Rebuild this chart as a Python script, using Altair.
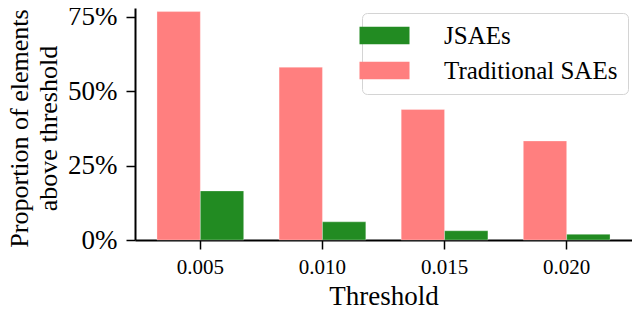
import altair as alt
import pandas as pd

thresholds = ["0.005", "0.010", "0.015", "0.020"]
jsae_vals = [0.165, 0.061, 0.031, 0.019]
trad_vals = [0.768, 0.581, 0.439, 0.333]
series = ["JSAEs", "Traditional SAEs"]
colors = ["#228B22", "#FF7F7F"]

rows = []
for t, j, tr in zip(thresholds, jsae_vals, trad_vals):
    rows.append({"Threshold": t, "Model": "Traditional SAEs", "Value": tr})
    rows.append({"Threshold": t, "Model": "JSAEs", "Value": j})
df = pd.DataFrame(rows)

FONT = "Liberation Serif"

chart = alt.Chart(df).mark_bar(stroke="white", strokeWidth=0.5, strokeOpacity=0.6).encode(
    x=alt.X("Threshold:N", sort=thresholds,
            scale=alt.Scale(paddingInner=0.29, paddingOuter=0.18),
            axis=alt.Axis(title="Threshold", labelAngle=0, labelFontSize=21,
                          titleFontSize=27, titlePadding=6, labelPadding=7,
                          tickSize=9, tickWidth=1.5, tickColor="black",
                          domainColor="black", domainWidth=2,
                          labelColor="black", titleColor="black",
                          labelFont=FONT, titleFont=FONT, titleFontWeight="normal")),
    xOffset=alt.XOffset("Model:N", sort=["Traditional SAEs", "JSAEs"],
                        scale=alt.Scale(paddingInner=0, paddingOuter=0)),
    y=alt.Y("Value:Q", scale=alt.Scale(domain=[0, 0.78], nice=False),
            axis=alt.Axis(title=["Proportion of elements", "above threshold"],
                          values=[0, 0.25, 0.5, 0.75], format=".0%", grid=False,
                          labelFontSize=27, titleFontSize=26, labelPadding=9,
                          tickSize=9, tickWidth=1.5, tickColor="black",
                          domainColor="black", domainWidth=2,
                          labelColor="black", titleColor="black",
                          labelFont=FONT, titleFont=FONT, titleFontWeight="normal",
                          titleAngle=-90, titleAlign="center", titleBaseline="alphabetic",
                          titleX=-108, titleY=120, titleLineHeight=29)),
    color=alt.Color("Model:N", scale=alt.Scale(domain=series, range=colors),
                    legend=alt.Legend(title=None, orient="none", legendX=227, legendY=5,
                                      labelFontSize=25, labelFont=FONT, labelColor="black",
                                      labelLimit=0,
                                      symbolType="M-2,-0.7H2V0.7H-2Z", symbolSize=625,
                                      symbolStrokeWidth=0, labelOffset=47,
                                      rowPadding=9, padding=10,
                                      strokeColor="#d4d4d4", fillColor="white",
                                      cornerRadius=5)),
).properties(
    width=497, height=232,
    autosize=alt.AutoSizeParams(type="none"),
    padding={"left": 127, "top": 0, "right": 0, "bottom": 71},
).configure_view(stroke=None).configure_axis(grid=False)

chart.save("out.html", embed_options={"renderer": "svg", "actions": False})
